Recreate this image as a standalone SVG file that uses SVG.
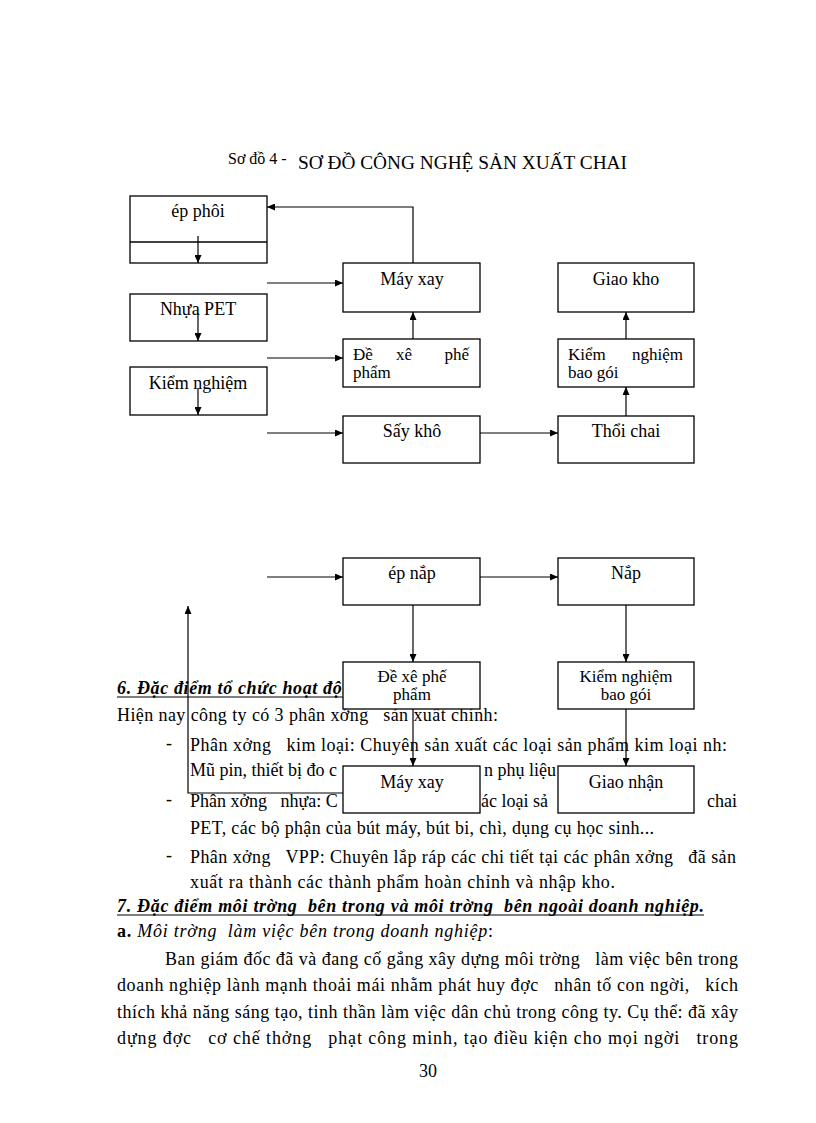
<svg xmlns="http://www.w3.org/2000/svg" width="816" height="1123" viewBox="0 0 816 1123" xml:space="preserve">
<defs>
<marker id="ar" markerUnits="userSpaceOnUse" markerWidth="8" markerHeight="7" refX="8" refY="3.5" orient="auto">
<path d="M0,0 L8,3.5 L0,7 z" fill="#000"/>
</marker>
<style>
.t{font-family:"Liberation Serif","Times New Roman",serif;font-size:18px;fill:#000;white-space:pre}
.s{font-size:17px}
.c{text-anchor:middle}
.e{text-anchor:end}
.bi{font-weight:bold;font-style:italic}
.it{font-style:italic}
.b{font-weight:bold}
.n rect{fill:#fff;stroke:#000;stroke-width:1.3}
.n line{stroke:#000;stroke-width:1.3}
#connectors path{fill:none;stroke:#000;stroke-width:1.2;marker-end:url(#ar)}
.ul{stroke:#000;stroke-width:1.2}
</style>
</defs>
<rect width="816" height="1123" fill="#fff"/>

<g id="title">
<text class="t" x="228" y="164" style="font-size:16px">Sơ đồ 4 -</text>
<text class="t" x="298" y="169" style="font-size:19px" textLength="329" lengthAdjust="spacingAndGlyphs">SƠ ĐỒ CÔNG NGHỆ SẢN XUẤT CHAI</text>
</g>

<g id="body">
<text class="t bi" x="117" y="694" textLength="245" lengthAdjust="spacing">6. Đặc điểm tổ chức hoạt động</text>
<line class="ul" x1="117" y1="697" x2="362" y2="697"/>
<text class="t" x="117" y="721" textLength="381" lengthAdjust="spacing">Hiện nay công ty có 3 phân xởng   sản xuất chính:</text>
<text class="t" x="166" y="749">-</text>
<text class="t" x="190" y="751" textLength="537" lengthAdjust="spacing">Phân xởng   kim loại: Chuyên sản xuất các loại sản phẩm kim loại nh:</text>
<text class="t" x="190" y="776">Mũ pin, thiết bị đo c</text>
<text class="t" x="484" y="776">n phụ liệu</text>
<text class="t" x="166" y="805">-</text>
<text class="t" x="190" y="807">Phân xởng   nhựa: C</text>
<text class="t" x="481" y="807">ác loại sả</text>
<text class="t" x="707" y="807">chai</text>
<text class="t" x="190" y="834" textLength="464" lengthAdjust="spacing">PET, các bộ phận của bút máy, bút bi, chì, dụng cụ học sinh...</text>
<text class="t" x="166" y="861">-</text>
<text class="t" x="190" y="863" textLength="546" lengthAdjust="spacing">Phân xởng   VPP: Chuyên lắp ráp các chi tiết tại các phân xởng   đã sản</text>
<text class="t" x="190" y="888" textLength="425" lengthAdjust="spacing">xuất ra thành các thành phẩm hoàn chỉnh và nhập kho.</text>
<text class="t bi" x="117" y="912" textLength="587" lengthAdjust="spacing">7. Đặc điểm môi trờng  bên trong và môi trờng  bên ngoài doanh nghiệp.</text>
<line class="ul" x1="117" y1="915" x2="704" y2="915"/>
<text class="t" x="117" y="937" textLength="376" lengthAdjust="spacing"><tspan class="b">a.</tspan><tspan class="it"> Môi trờng  làm việc bên trong doanh nghiệp</tspan>:</text>
<text class="t" x="165" y="965" textLength="573" lengthAdjust="spacing">Ban giám đốc đã và đang cố gắng xây dựng môi trờng   làm việc bên trong</text>
<text class="t" x="117" y="991" textLength="621" lengthAdjust="spacing">doanh nghiệp lành mạnh thoải mái nhằm phát huy đợc   nhân tố con ngời,   kích</text>
<text class="t" x="117" y="1018" textLength="621" lengthAdjust="spacing">thích khả năng sáng tạo, tinh thần làm việc dân chủ trong công ty. Cụ thể: đã xây</text>
<text class="t" x="117" y="1044" textLength="621" lengthAdjust="spacing">dựng đợc   cơ chế thởng   phạt công minh, tạo điều kiện cho mọi ngời   trong</text>
<text class="t c" x="428" y="1077">30</text>
</g>

<g id="n-ep-phoi" class="n"><rect x="130" y="196" width="137" height="67"/><line x1="130" y1="242" x2="267" y2="242"/><text class="t c" x="198" y="217">ép phôi</text></g>
<g id="n-nhua-pet" class="n"><rect x="130" y="294" width="137" height="47"/><text class="t c" x="198" y="315">Nhựa PET</text></g>
<g id="n-kiem-nghiem" class="n"><rect x="130" y="367" width="137" height="48"/><text class="t c" x="198" y="389">Kiểm nghiệm</text></g>
<g id="n-may-xay-1" class="n"><rect x="343" y="263" width="137" height="49"/><text class="t c" x="412" y="285">Máy xay</text></g>
<g id="n-de-xe-1" class="n"><rect x="343" y="339" width="137" height="48"/><text class="t s"><tspan x="353" y="360">Đề</tspan><tspan x="396" y="360">xê</tspan><tspan class="e" x="469" y="360">phế</tspan><tspan x="353" y="378">phẩm</tspan></text></g>
<g id="n-say-kho" class="n"><rect x="343" y="416" width="137" height="47"/><text class="t c" x="412" y="437">Sấy khô</text></g>
<g id="n-giao-kho" class="n"><rect x="558" y="263" width="136" height="49"/><text class="t c" x="626" y="285">Giao kho</text></g>
<g id="n-kiem-bao-1" class="n"><rect x="558" y="339" width="136" height="48"/><text class="t s"><tspan x="568" y="360">Kiểm</tspan><tspan class="e" x="683" y="360">nghiệm</tspan><tspan x="568" y="378">bao gói</tspan></text></g>
<g id="n-thoi-chai" class="n"><rect x="558" y="416" width="136" height="47"/><text class="t c" x="626" y="437">Thổi chai</text></g>
<g id="n-ep-nap" class="n"><rect x="343" y="558" width="137" height="47"/><text class="t c" x="412" y="579">ép nắp</text></g>
<g id="n-nap" class="n"><rect x="558" y="558" width="136" height="47"/><text class="t c" x="626" y="579">Nắp</text></g>
<g id="n-de-xe-2" class="n"><rect x="343" y="662" width="137" height="47"/><text class="t s c" x="412" y="682">Đề xê phế</text><text class="t s c" x="412" y="700">phẩm</text></g>
<g id="n-kiem-bao-2" class="n"><rect x="558" y="662" width="136" height="47"/><text class="t s c" x="626" y="682">Kiểm nghiệm</text><text class="t s c" x="626" y="700">bao gói</text></g>
<g id="n-may-xay-2" class="n"><rect x="343" y="766" width="137" height="47"/><text class="t c" x="412" y="788">Máy xay</text></g>
<g id="n-giao-nhan" class="n"><rect x="558" y="766" width="136" height="47"/><text class="t c" x="626" y="788">Giao nhận</text></g>

<g id="connectors">
<path d="M198,236 V263"/>
<path d="M198,313 V341"/>
<path d="M198,388 V415"/>
<path d="M267,283 H343"/>
<path d="M267,358 H343"/>
<path d="M267,433 H343"/>
<path d="M413,263 V207 H267"/>
<path d="M413,339 V312"/>
<path d="M480,433 H558"/>
<path d="M626,416 V387"/>
<path d="M626,339 V312"/>
<path d="M267,577 H343"/>
<path d="M480,577 H558"/>
<path d="M413,605 V662"/>
<path d="M626,605 V662"/>
<path d="M413,709 V766"/>
<path d="M626,709 V766"/>
<path d="M343,793 H188 V606"/>
</g>
</svg>
